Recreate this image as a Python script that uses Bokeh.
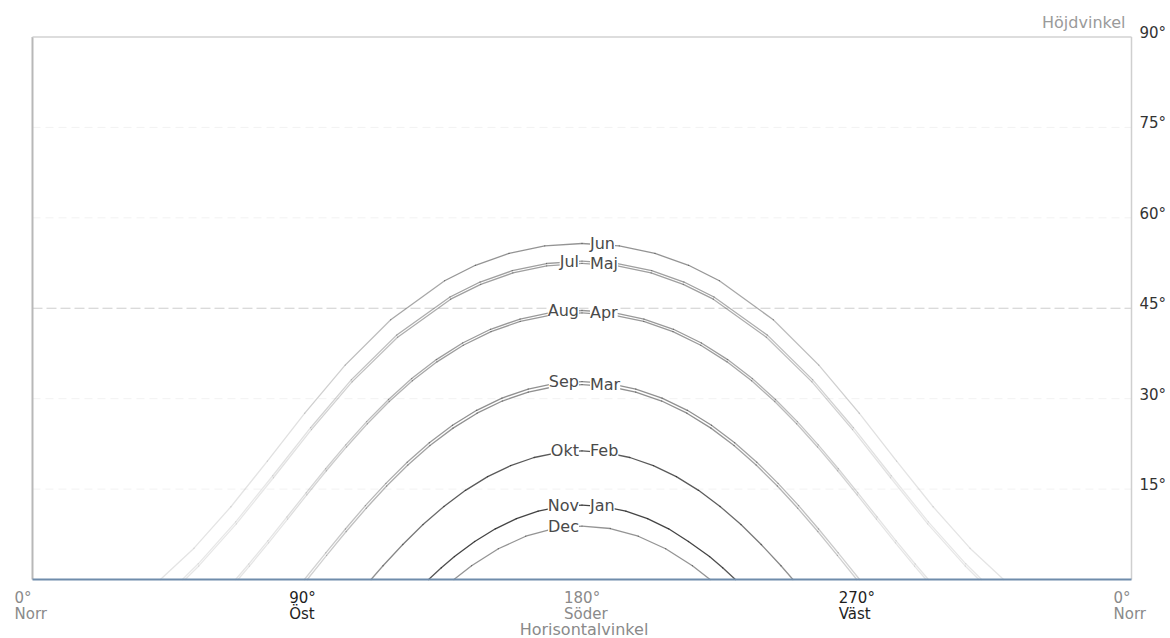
from bokeh.plotting import figure
from bokeh.models import Range1d, ColumnDataSource
from bokeh.core.properties import value
from bokeh.embed import file_html
from bokeh.resources import INLINE

# ---- data (azimuth from north, altitude in degrees) ----
jun_az = [41.9, 52.91, 64.99, 76.94, 89.2, 102.42, 117.34, 135.0, 145.08, 156.1, 167.8, 180,
          192.2, 203.9, 214.92, 225.0, 242.66, 257.58, 270.8, 283.06, 295.01, 307.09, 318.1]
jun_alt = [0, 5.20, 12.07, 19.64, 27.59, 35.56, 43.09, 49.56, 52.13, 54.1, 55.35, 55.74,
           55.35, 54.1, 52.13, 49.56, 43.09, 35.56, 27.59, 19.64, 12.07, 5.20, 0]

maj_az = [50.01, 54.48, 66.77, 78.92, 91.36, 104.67, 119.60, 136.98, 146.83, 157.37, 168.43, 180,
          191.57, 202.63, 213.17, 223.02, 240.40, 255.33, 268.64, 281.08, 293.23, 305.52, 309.99]
maj_alt = [0, 2.25, 9.23, 16.88, 24.86, 32.78, 40.20, 46.50, 48.97, 50.85, 52.03, 52.43,
           52.03, 50.85, 48.97, 46.50, 40.20, 32.78, 24.86, 16.88, 9.23, 2.25, 0]

jul_az = [49.10, 54.29, 66.57, 78.69, 91.10, 104.41, 119.33, 136.76, 146.61, 157.16, 168.38, 180,
          191.62, 202.84, 213.39, 223.24, 240.67, 255.59, 268.90, 281.31, 293.43, 305.71, 310.90]
jul_alt = [0, 2.60, 9.57, 17.21, 25.18, 33.12, 40.55, 46.86, 49.35, 51.23, 52.42, 52.83,
           52.42, 51.23, 49.35, 46.86, 40.55, 33.12, 25.18, 17.21, 9.57, 2.60, 0]

apr_az = [67.32, 71.07, 77.33, 83.57, 89.86, 96.25, 102.85, 109.68, 116.86, 124.42, 132.49, 141.09,
          150.20, 159.77, 169.77, 180,
          190.23, 200.23, 209.80, 218.91, 227.51, 235.58, 243.14, 250.32, 257.15, 263.75, 270.14,
          276.43, 282.67, 288.93, 292.68]
apr_alt = [0, 2.22, 6.08, 10.03, 14.03, 18.04, 21.99, 25.84, 29.53, 32.97, 36.11, 38.86,
           41.12, 42.82, 43.87, 44.22,
           43.87, 42.82, 41.12, 38.86, 36.11, 32.97, 29.53, 25.84, 21.99, 18.04, 14.03,
           10.03, 6.08, 2.22, 0]

aug_az = [66.53, 70.87, 77.11, 83.35, 89.63, 96.03, 102.62, 109.46, 116.63, 124.22, 132.30, 140.89,
          150.04, 159.71, 169.67, 180,
          190.33, 200.29, 209.96, 219.11, 227.70, 235.78, 243.37, 250.54, 257.38, 263.97, 270.37,
          276.65, 282.89, 289.13, 293.47]
aug_alt = [0, 2.57, 6.42, 10.37, 14.37, 18.37, 22.33, 26.19, 29.87, 33.33, 36.48, 39.24,
           41.51, 43.21, 44.27, 44.63,
           44.27, 43.21, 41.51, 39.24, 36.48, 33.33, 29.87, 26.19, 22.33, 18.37, 14.37,
           10.37, 6.42, 2.57, 0]

mar_az = [90, 96.35, 102.75, 109.30, 116.01, 122.96, 130.20, 137.76, 145.64, 153.89, 162.4, 171.15, 180,
          188.85, 197.6, 206.11, 214.36, 222.24, 229.80, 237.04, 243.99, 250.70, 257.25, 263.65, 270]
mar_alt = [0, 4.00, 7.96, 11.81, 15.51, 19.00, 22.22, 25.11, 27.59, 29.61, 31.10, 32.02, 32.33,
           32.02, 31.10, 29.61, 27.59, 25.11, 22.22, 19.00, 15.51, 11.81, 7.96, 4.00, 0]

sep_az = [89.06, 96.08, 102.50, 109.04, 115.77, 122.74, 129.99, 137.58, 145.50, 153.78, 162.38, 171.19, 180,
          188.81, 197.62, 206.22, 214.50, 222.42, 230.01, 237.26, 244.23, 250.96, 257.50, 263.92, 270.94]
sep_alt = [0, 4.43, 8.38, 12.25, 15.95, 19.45, 22.68, 25.58, 28.07, 30.10, 31.60, 32.52, 32.83,
           32.52, 31.60, 30.10, 28.07, 25.58, 22.68, 19.45, 15.95, 12.25, 8.38, 4.43, 0]

okt_az = [110.90, 114.82, 121.30, 127.93, 134.77, 141.83, 149.10, 156.62, 164.32, 172.14, 180,
          187.86, 195.68, 203.38, 210.9, 218.17, 225.23, 232.07, 238.70, 245.18, 249.10]
okt_alt = [0, 2.28, 5.81, 9.11, 12.12, 14.79, 17.07, 18.89, 20.24, 21.06, 21.33,
           21.06, 20.24, 18.89, 17.07, 14.79, 12.12, 9.11, 5.81, 2.28, 0]

nov_az = [129.76, 133.92, 138.23, 144.86, 151.63, 158.53, 165.64, 172.74, 180,
          187.26, 194.36, 201.47, 208.37, 214.86, 221.77, 226.08, 230.24]
nov_alt = [0, 1.95, 3.80, 6.30, 8.41, 10.09, 11.33, 12.08, 12.33,
           12.08, 11.33, 10.09, 8.41, 6.30, 3.80, 1.95, 0]

dec_az = [138.05, 143.83, 152.6, 161.58, 170.74, 180,
          189.26, 198.42, 207.4, 216.17, 221.95]
dec_alt = [0, 2.28, 5.10, 7.18, 8.46, 8.86,
           8.46, 7.18, 5.10, 2.28, 0]

month_left = ["Jul", "Aug", "Sep", "Okt", "Nov", "Dec"]
month_left_alt = [52.83, 44.63, 32.83, 21.33, 12.33, 8.86]
month_right = ["Jun", "Maj", "Apr", "Mar", "Feb", "Jan"]
month_right_alt = [55.74, 52.43, 44.22, 32.33, 21.33, 12.33]

x_ticks = [0, 90, 180, 270, 360]
x_tick_deg = ["0°", "90°", "180°", "270°", "0°"]
x_tick_dir = ["Norr", "Öst", "Söder", "Väst", "Norr"]
y_ticks = [15, 30, 45, 60, 75, 90]
y_tick_labels = ["15°", "30°", "45°", "60°", "75°", "90°"]
grid_levels = [15, 30, 60, 75]

FONT = value("DejaVu Sans")

p = figure(width=1170, height=638,
           x_range=Range1d(-10.482, 372.775), y_range=Range1d(-9.788, 96.055),
           output_backend="svg", toolbar_location=None,
           x_axis_location=None, y_axis_location=None,
           min_border=0, outline_line_color=None)
p.background_fill_color = "white"
p.border_fill_color = "white"
p.xgrid.visible = False
p.ygrid.visible = False

# faint grid lines
for g in grid_levels:
    p.line([0, 360], [g, g], line_color="#f2f2f2", line_width=1, line_dash="8 5")
p.line([0, 360], [45, 45], line_color="#cdcdcd", line_width=1, line_dash="10 4")

# frame
p.line([0, 0], [0, 90], line_color="#b8b8b8", line_width=2)
p.line([0, 360], [90, 90], line_color="#d2d2d2", line_width=1.5)
p.line([360, 360], [0, 90], line_color="#cfcfcf", line_width=1.5)

# sun paths, drawn as segments that fade towards the horizon ends
curves = [
    (jun_az, jun_alt, 0.50),
    (maj_az, maj_alt, 0.45),
    (jul_az, jul_alt, 0.45),
    (apr_az, apr_alt, 0.48),
    (aug_az, aug_alt, 0.48),
    (mar_az, mar_alt, 0.52),
    (sep_az, sep_alt, 0.52),
    (okt_az, okt_alt, 0.78),
    (nov_az, nov_alt, 0.88),
    (dec_az, dec_alt, 0.50),
]
x0, y0, x1, y1, al = [], [], [], [], []
for az, alt, base in curves:
    for i in range(len(az) - 1):
        d = abs((az[i] + az[i + 1]) / 2 - 180)
        f = 1.0 if d < 40 else max(0.25, 1 - (d - 40) / 60 * 0.75)
        x0.append(az[i]); y0.append(alt[i]); x1.append(az[i + 1]); y1.append(alt[i + 1])
        al.append(base * f)
seg = ColumnDataSource(dict(x0=x0, y0=y0, x1=x1, y1=y1, a=al))
p.segment("x0", "y0", "x1", "y1", source=seg, line_color="#2a2a2a", line_alpha="a",
          line_width=1.3, line_cap="round")

# horizon line
p.line([0, 360], [0, 0], line_color="#6f8cab", line_width=2)

# month labels
p.text(x=[180] * len(month_left), y=month_left_alt, text=month_left,
       text_font=FONT, text_font_size="16px", text_color="#4a4a4a",
       text_align="right", text_baseline="middle", x_offset=-3,
       background_fill_color="white")
p.text(x=[180] * len(month_right), y=month_right_alt, text=month_right,
       text_font=FONT, text_font_size="16px", text_color="#4a4a4a",
       text_align="left", text_baseline="middle", x_offset=8,
       background_fill_color="white")

# y tick labels (right)
p.text(x=[360] * len(y_ticks), y=y_ticks, text=y_tick_labels,
       text_font=FONT, text_font_size="15px", text_color="#333333",
       text_align="left", text_baseline="middle", x_offset=8, y_offset=-4)
p.text(x=[360], y=[90], text=["Höjdvinkel"], text_font=FONT, text_font_size="16px",
       text_color="#9a9a9a", text_align="right", text_baseline="middle",
       x_offset=-6, y_offset=-14)

# x tick labels (bottom)
xcol = ["#8a8a8a", "#1e1e1e", "#8a8a8a", "#1e1e1e", "#8a8a8a"]
src_x = ColumnDataSource(dict(x=x_ticks, y=[0] * 5, deg=x_tick_deg, dir=x_tick_dir, c=xcol))
p.text(x="x", y="y", text="deg", source=src_x, text_font=FONT, text_font_size="15px",
       text_color="c", text_align="left", text_baseline="middle", x_offset=-18, y_offset=19)
p.text(x="x", y="y", text="dir", source=src_x, text_font=FONT, text_font_size="15px",
       text_color="c", text_align="left", text_baseline="middle", x_offset=-18, y_offset=35)
p.text(x=[180], y=[0], text=["Horisontalvinkel"], text_font=FONT, text_font_size="16px",
       text_color="#8a8a8a", text_align="center", text_baseline="middle",
       x_offset=2, y_offset=50)

open("out.html", "w").write(file_html(p, INLINE))
